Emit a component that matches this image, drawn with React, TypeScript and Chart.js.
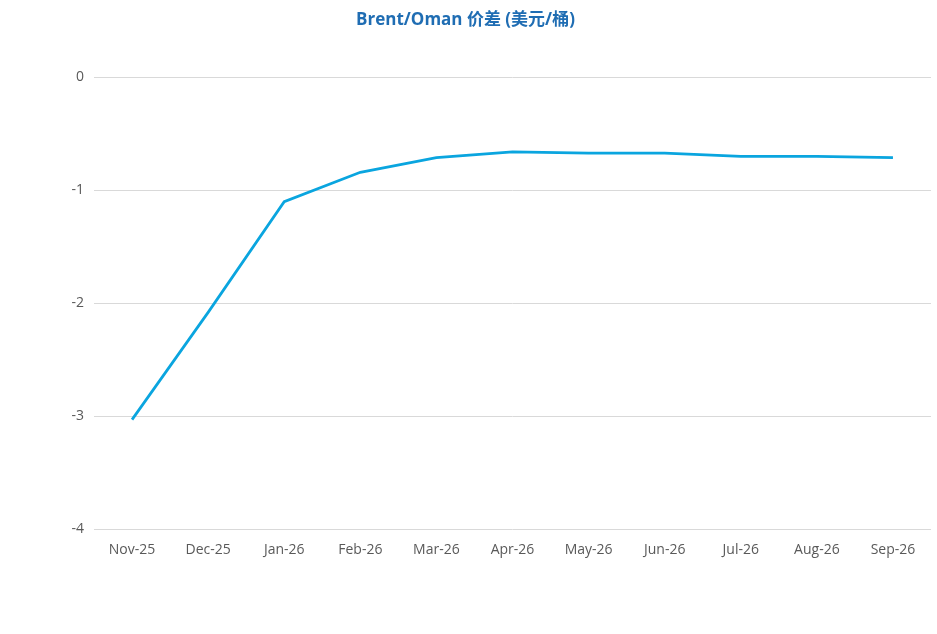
import React, { useEffect, useRef } from "react";
import { Chart, registerables } from "chart.js";

Chart.register(...registerables);

const categories = ["Nov-25", "Dec-25", "Jan-26", "Feb-26", "Mar-26", "Apr-26", "May-26", "Jun-26", "Jul-26", "Aug-26", "Sep-26"];
const spreadValues = [-3.03, -2.08, -1.1, -0.84, -0.71, -0.66, -0.67, -0.67, -0.7, -0.7, -0.71];
const yTicks = [0, -1, -2, -3, -4];
const titleText = "Brent/Oman 价差 (美元/桶)";

export default function App() {
  const ref = useRef<HTMLCanvasElement | null>(null);
  useEffect(() => {
    document.body.style.margin = "0";
    const ctx = ref.current;
    if (!ctx) return;
    const chart = new Chart(ctx, {
      type: "line",
      data: {
        labels: categories,
        datasets: [
          {
            label: "Brent/Oman",
            data: spreadValues,
            borderColor: "#0AA5DF",
            backgroundColor: "#0AA5DF",
            borderWidth: 2.75,
            pointRadius: 0,
            tension: 0,
          },
        ],
      },
      options: {
        animation: false,
        responsive: false,
        layout: { padding: { top: 10, left: 0, right: 6, bottom: 72 } },
        plugins: {
          legend: { display: false },
          tooltip: { enabled: false },
          title: {
            display: true,
            text: titleText,
            color: "#1F6DB3",
            font: { family: "'Open Sans', 'Noto Sans CJK SC', sans-serif", size: 17, weight: "bold" },
            padding: { top: 0, bottom: 47 },
          },
        },
        scales: {
          x: {
            offset: true,
            grid: { display: false },
            border: { display: false },
            ticks: {
              color: "#595959",
              font: { family: "'Open Sans', sans-serif", size: 14 },
              padding: 4,
              maxRotation: 0,
            },
          },
          y: {
            min: -4,
            max: 0,
            afterBuildTicks: (axis: any) => {
              axis.ticks = yTicks.map((v) => ({ value: v }));
            },
            afterFit: (axis: any) => {
              axis.width = 94;
            },
            grid: { color: "#D9D9D9", lineWidth: 1, drawTicks: false },
            border: { display: false },
            ticks: {
              color: "#595959",
              font: { family: "'Open Sans', sans-serif", size: 14 },
              padding: 10,
            },
          },
        },
      },
    });
    return () => chart.destroy();
  }, []);
  return <canvas ref={ref} width={937} height={634} style={{ display: "block" }} />;
}
